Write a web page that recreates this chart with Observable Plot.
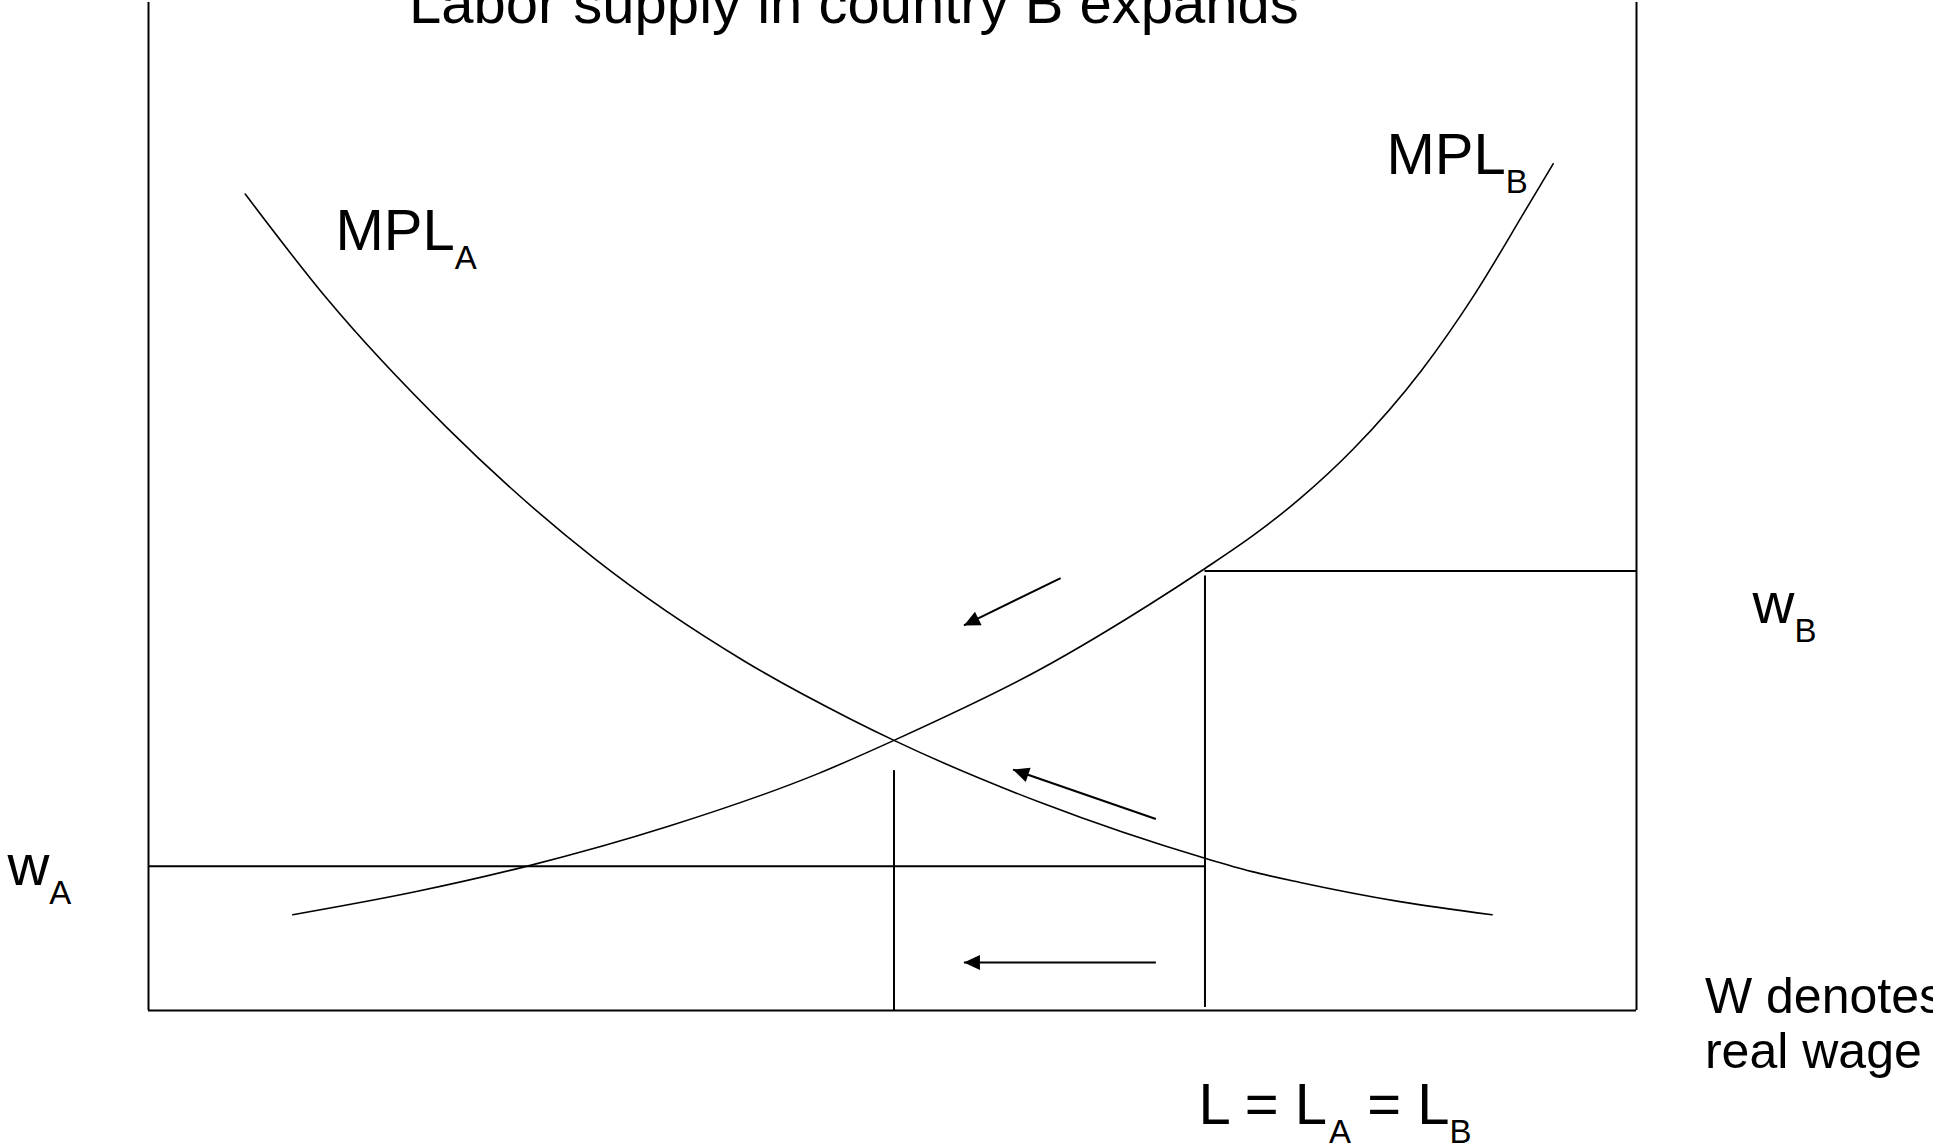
<!DOCTYPE html>
<html>
<head>
<meta charset="utf-8">
<script src="https://cdn.jsdelivr.net/npm/d3@7"></script>
<script src="https://cdn.jsdelivr.net/npm/@observablehq/plot@0.6"></script>
<style>
  html, body { margin: 0; padding: 0; background: #fff; }
  #chart { width: 1933px; height: 1147px; overflow: hidden; }
</style>
</head>
<body>
<div id="chart"></div>
<script>
// ---- Data (L = labour, w = real wage, in diagram units: L 0..100, w 0..100) ----
const mplA_L = [6.5, 12, 20, 30, 40, 47.2, 50.1, 60, 71, 74.1, 77.4, 84.1, 90.3];
const mplA_w = [81, 70.6, 57.9, 44.8, 34.7, 28.9, 26.8, 20.6, 15.1, 13.8, 12.7, 10.8, 9.5];

const mplB_L = [9.7, 18, 25.4, 35, 45, 50.1, 60, 67.3, 70.9, 74.4, 77.4, 80.9, 85.55, 89.1, 92.5, 94.4];
const mplB_w = [9.5, 11.8, 14.3, 18.3, 23.5, 26.8, 33.9, 40.3, 43.75, 47.3, 50.8, 55.6, 63.5, 71.0, 79.3, 84];

const wageA = 14.3;      // w_A
const wageB = 43.6;      // w_B
const laborSplit = 71;   // initial allocation L_A | L_B
const laborNew = 50.1;   // new equilibrium split

// arrows: start -> tip
const arrowFromL = [61.3, 67.7, 67.7];
const arrowFromW = [42.9, 19.0, 4.76];
const arrowToL   = [54.8, 58.1, 54.8];
const arrowToW   = [38.2, 23.9, 4.76];

// text labels: anchor (baseline-start) and parts (sub = subscript)
const labelText = [
  [{t: "Labor supply in country B expands"}],
  [{t: "MPL"}, {t: "A", sub: true}],
  [{t: "MPL"}, {t: "B", sub: true}],
  [{t: "w"}, {t: "A", sub: true}],
  [{t: "w"}, {t: "B", sub: true}],
  [{t: "W denotes"}],
  [{t: "real wage"}],
  [{t: "L = L"}, {t: "A", sub: true}, {t: " = L"}, {t: "B", sub: true}]
];
const labelL = [17.5, 12.57, 83.2, -9.48, 107.8, 104.6, 104.6, 70.56];
const labelW = [98, 75.4, 83.0, 12.5, 38.4, -0.2, -5.75, -11.3];
const labelSize = [58, 58, 58, 58, 58, 50, 50, 58];

// ---- Build ----
const FONT = '"Liberation Sans", Arial, Helvetica, sans-serif';
const SUB = 33, SUBDROP = 19;
const ctx = document.createElement("canvas").getContext("2d");
function measure(s, size) { ctx.font = `${size}px "Liberation Sans"`; return ctx.measureText(s).width; }

const curveA = mplA_L.map((L, i) => ({L, w: mplA_w[i]}));
const curveB = mplB_L.map((L, i) => ({L, w: mplB_w[i]}));
const arrows = arrowFromL.map((L, i) => ({L1: L, w1: arrowFromW[i], L2: arrowToL[i], w2: arrowToW[i]}));

const textMarks = [];
labelText.forEach((parts, k) => {
  let dx = 0;
  for (const p of parts) {
    const size = p.sub ? SUB : labelSize[k];
    const lead = p.t.length - p.t.trimStart().length;
    const txt = p.t.trimStart();
    const off = dx + (lead ? measure(p.t.slice(0, lead), size) : 0);
    textMarks.push(Plot.text([txt], {
      x: () => labelL[k], y: () => labelW[k], text: d => d,
      fontSize: size, textAnchor: "start", lineAnchor: "bottom",
      dx: off, dy: p.sub ? SUBDROP : 0, fill: "black", fontFamily: FONT
    }));
    dx += measure(p.t, size);
  }
});

const plot = Plot.plot({
  width: 1933, height: 1147,
  marginLeft: 148, marginRight: 297, marginTop: 2, marginBottom: 137,
  x: {domain: [0, 100], axis: null},
  y: {domain: [0, 100], axis: null},
  style: {background: "white", fontFamily: FONT, overflow: "visible"},
  marks: [
    // frame: left & right walls, floor
    Plot.ruleX([0, 100], {y1: 0, y2: 100, stroke: "black", strokeWidth: 2}),
    Plot.ruleY([0], {x1: 0, x2: 100, stroke: "black", strokeWidth: 2.2}),
    // wage lines
    Plot.ruleY([wageA], {x1: 0, x2: laborSplit, stroke: "black", strokeWidth: 2}),
    Plot.ruleY([wageB], {x1: laborSplit, x2: 100, stroke: "black", strokeWidth: 2}),
    // labour split verticals
    Plot.ruleX([laborSplit], {y1: 0.3, y2: wageB - 0.5, stroke: "black", strokeWidth: 2}),
    Plot.ruleX([laborNew], {y1: 0, y2: 23.8, stroke: "black", strokeWidth: 2}),
    // MPL curves
    Plot.line(curveA, {x: "L", y: "w", curve: "monotone-x", stroke: "black", strokeWidth: 1.6}),
    Plot.line(curveB, {x: "L", y: "w", curve: "monotone-x", stroke: "black", strokeWidth: 1.6}),
    // arrows
    Plot.link(arrows, {x1: "L1", y1: "w1", x2: "L2", y2: "w2", stroke: "black", strokeWidth: 2}),
    ...textMarks
  ]
});

// filled triangular arrowheads
const svg = d3.select(plot);
const defs = svg.insert("defs", ":first-child");
defs.append("marker")
  .attr("id", "tri-head")
  .attr("viewBox", "-17 -8 18 16")
  .attr("markerWidth", 18).attr("markerHeight", 16)
  .attr("markerUnits", "userSpaceOnUse")
  .attr("orient", "auto")
  .attr("refX", 0).attr("refY", 0)
  .append("path").attr("d", "M0,0L-16,-7.5L-16,7.5Z").attr("fill", "black");
svg.selectAll('g[aria-label="link"] path').attr("marker-end", "url(#tri-head)");

document.getElementById("chart").appendChild(plot);
</script>
</body>
</html>
